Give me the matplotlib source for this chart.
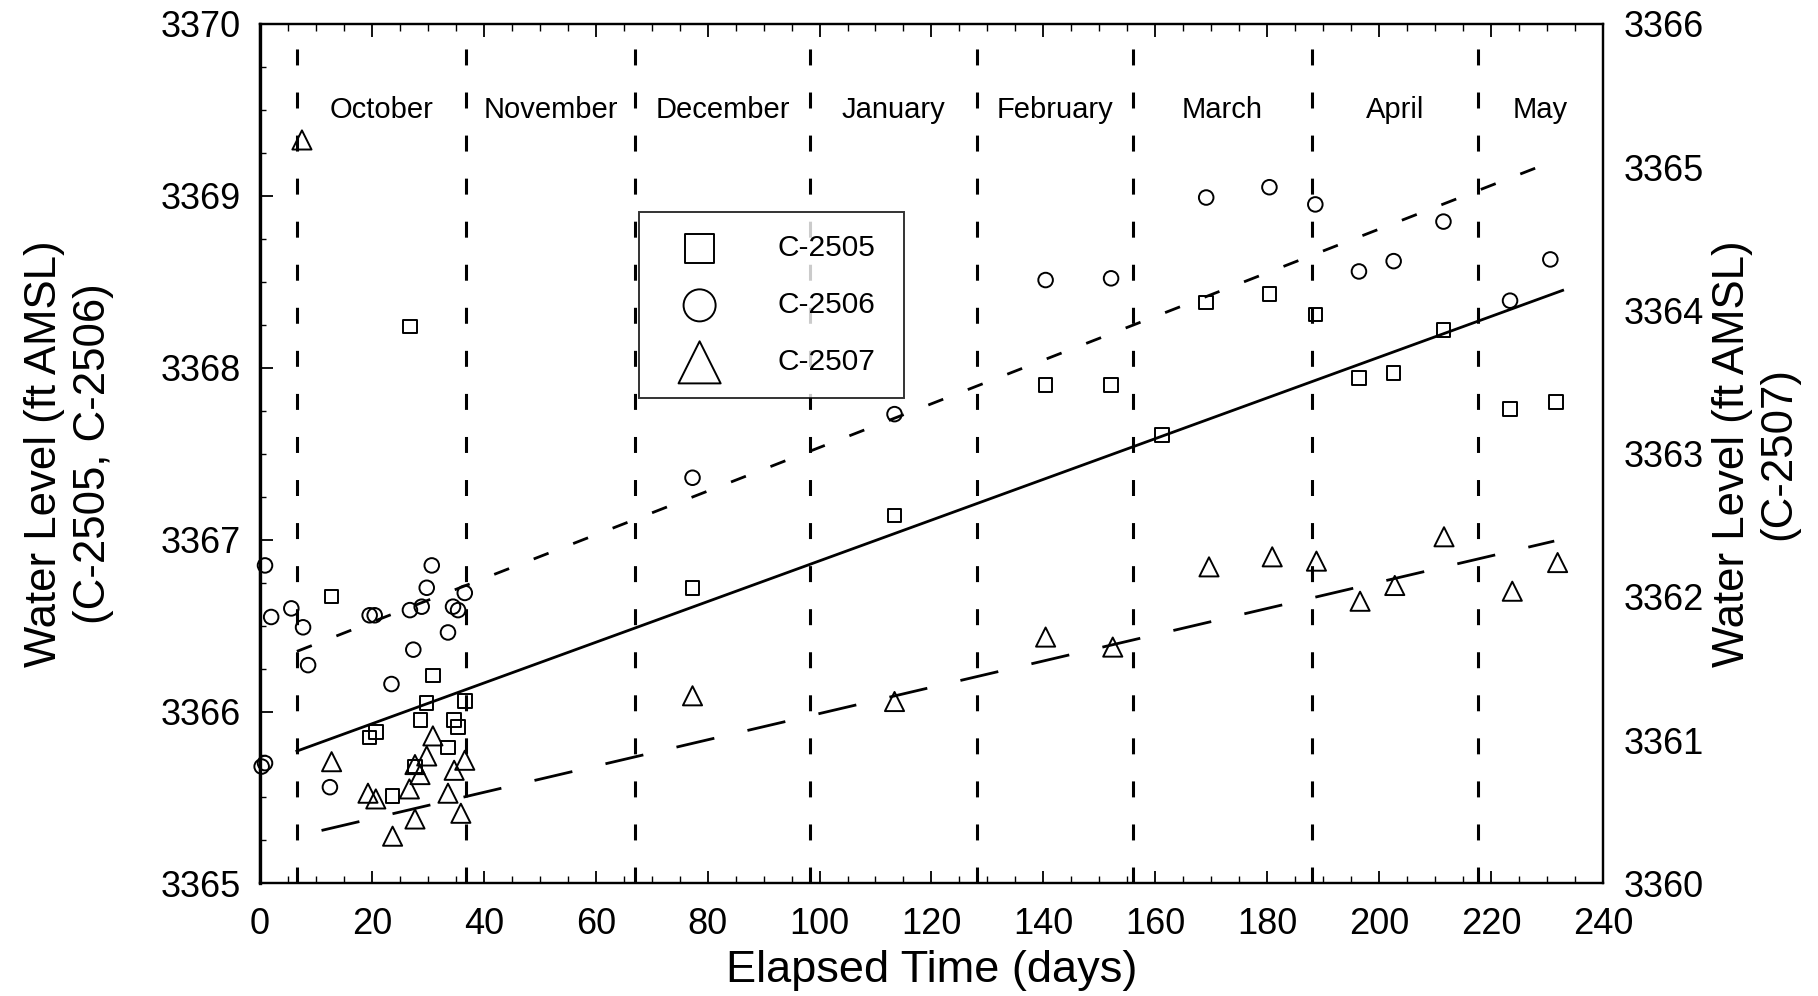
import matplotlib
matplotlib.use("Agg")
import matplotlib.pyplot as plt
from matplotlib.ticker import MultipleLocator

plt.rcParams['font.family'] = ['Liberation Sans', 'DejaVu Sans']
plt.rcParams['lines.scale_dashes'] = False

# ---------------- data ----------------
c2505_x = [12.8, 19.6, 20.7, 23.7, 26.8, 27.7, 28.7, 29.8, 30.9, 33.6, 34.7, 35.4, 36.6,
           77.3, 113.4, 140.4, 152.1, 161.2, 169.1, 180.4, 188.6, 196.4, 202.6, 211.5, 223.4, 231.6]
c2505_y = [3366.67, 3365.85, 3365.88, 3365.51, 3368.24, 3365.68, 3365.95, 3366.05, 3366.21, 3365.79,
           3365.95, 3365.91, 3366.06, 3366.72, 3367.14, 3367.90, 3367.90, 3367.61, 3368.38, 3368.43,
           3368.31, 3367.94, 3367.97, 3368.22, 3367.76, 3367.80]

c2506_x = [0.3, 0.9, 0.9, 2.0, 5.6, 7.7, 8.6, 12.5, 19.6, 20.5, 23.5, 26.8, 27.4, 28.9, 29.8, 30.7,
           33.6, 34.5, 35.4, 36.6, 77.3, 113.4, 140.4, 152.1, 169.1, 180.4, 188.6, 196.4, 202.6,
           211.5, 223.4, 230.6]
c2506_y = [3365.68, 3365.70, 3366.85, 3366.55, 3366.60, 3366.49, 3366.27, 3365.56, 3366.56, 3366.56,
           3366.16, 3366.59, 3366.36, 3366.61, 3366.72, 3366.85, 3366.46, 3366.61, 3366.59, 3366.69,
           3367.36, 3367.73, 3368.51, 3368.52, 3368.99, 3369.05, 3368.95, 3368.56, 3368.62, 3368.85,
           3368.39, 3368.63]

c2507_x = [7.5, 12.8, 19.3, 20.7, 23.7, 26.7, 27.7, 27.7, 28.6, 29.8, 30.9, 33.6, 34.7, 35.9, 36.6,
           77.3, 113.4, 140.4, 152.4, 169.6, 180.9, 188.8, 196.6, 202.8, 211.6, 223.8, 231.9]
c2507_y = [3365.19, 3360.85, 3360.63, 3360.59, 3360.33, 3360.66, 3360.83, 3360.45, 3360.76, 3360.89,
           3361.03, 3360.63, 3360.79, 3360.49, 3360.86, 3361.31, 3361.27, 3361.72, 3361.65, 3362.21,
           3362.28, 3362.25, 3361.97, 3362.08, 3362.42, 3362.04, 3362.24]

# regression lines (end points)
fit2505_x = [6.6, 232.8]
fit2505_y = [3365.77, 3368.45]
fit2506_x = [6.6, 231.0]
fit2506_y = [3366.35, 3369.20]
fit2507_x = [11.0, 231.3]
fit2507_y = [3360.37, 3362.39]

month_names = ["October", "November", "December", "January", "February", "March", "April", "May"]
month_starts = [6.6, 36.8, 67.0, 98.3, 128.2, 156.0, 188.0, 217.6]

x_ticks = list(range(0, 241, 20))
left_ticks = [3365, 3366, 3367, 3368, 3369, 3370]
right_ticks = [3360, 3361, 3362, 3363, 3364, 3365, 3366]

# ---------------- figure ----------------
fig = plt.figure(figsize=(18.18, 9.96), dpi=100)
ax = fig.add_axes([0.143, 0.113, 0.7387, 0.863])
ax2 = ax.twinx()

XMAX = 240
ax.set_xlim(0, XMAX)
ax.set_ylim(3365, 3370)
ax2.set_ylim(3360, 3366)

# month separators
for xs in month_starts:
    ax.axvline(xs, color='black', lw=2.2, dashes=(11.5, 19.5), zorder=1)
ends = month_starts[1:] + [XMAX]
for name, a, b in zip(month_names, month_starts, ends):
    ax.text((a + b) / 2, 3369.5, name, ha='center', va='center', fontsize=21)

mk = dict(facecolor='none', edgecolor='black', linewidths=1.4, clip_on=False, zorder=3)
h1 = ax.scatter(c2505_x, c2505_y, marker='s', s=95, label='C-2505', **mk)
h2 = ax.scatter(c2506_x, c2506_y, marker='o', s=110, label='C-2506', **mk)
h3 = ax2.scatter(c2507_x, c2507_y, marker='^', s=190, label='C-2507', **mk)

ax.plot(fit2505_x, fit2505_y, color='black', lw=2.0, zorder=2)
ax.plot(fit2506_x, fit2506_y, color='black', lw=2.0, dashes=(11.5, 19), zorder=2)
ax2.plot(fit2507_x, fit2507_y, color='black', lw=2.0, dashes=(28, 24.5), zorder=2)

# ticks
ax.set_xticks(x_ticks)
ax.xaxis.set_minor_locator(MultipleLocator(5))
ax.set_yticks(left_ticks)
ax.yaxis.set_minor_locator(MultipleLocator(0.25))
ax.tick_params(axis='x', which='major', direction='in', top=True, length=9, width=1.3,
               labelsize=26, pad=17)
ax.tick_params(axis='x', which='minor', direction='in', top=True, length=5, width=1.0)
ax.tick_params(axis='y', which='major', direction='in', length=9, width=1.3, labelsize=26, pad=14)
ax.tick_params(axis='y', which='minor', direction='in', length=4, width=1.0)
ax2.set_yticks(right_ticks)
ax2.tick_params(axis='y', which='both', direction='in', length=0, labelsize=26, pad=15)

for a in (ax, ax2):
    for sp in a.spines.values():
        sp.set_linewidth(1.6)
ax.spines['left'].set_linewidth(2.4)

ax.set_xlabel('Elapsed Time (days)', fontsize=32.5, labelpad=6)
ax.set_ylabel('Water Level (ft AMSL)\n(C-2505, C-2506)', fontsize=31.5, labelpad=33,
              linespacing=1.25)
ax2.set_ylabel('Water Level (ft AMSL)\n(C-2507)', fontsize=31.5, labelpad=6, linespacing=1.15,
               rotation=90)

leg = ax2.legend(handles=[h1, h2, h3], loc='upper left',
                 bbox_to_anchor=(0.282, 0.566, 0.1975, 0.215), mode='expand',
                 fontsize=21.5, markerscale=2.2, frameon=True, fancybox=False,
                 edgecolor='black', borderpad=0.74, labelspacing=0.97,
                 handlelength=2.6, handletextpad=1.3, borderaxespad=0)
leg.get_frame().set_linewidth(1.4)

fig.savefig('out.png', dpi=100, facecolor='white')
